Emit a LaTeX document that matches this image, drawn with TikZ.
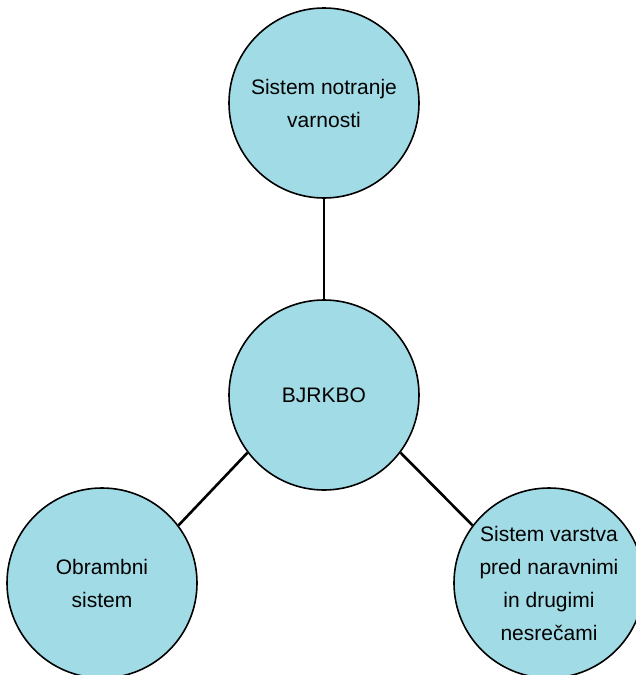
\documentclass[tikz,border=0pt]{standalone}
\usepackage{fontspec}
\setmainfont{Liberation Sans}
\usepackage{tikz}
\usepackage{xcolor}
\usetikzlibrary{positioning}
\definecolor{circleblue}{RGB}{161,219,229}

\tikzset{
  sysnode/.style={circle, draw, line width=1.6pt, fill=circleblue, minimum size=190pt,
    inner sep=0pt, align=center, font=\fontsize{21}{33}\selectfont},
  link/.style={line width=2.6pt}
}

\begin{document}
\begin{tikzpicture}[x=1pt, y=-1pt]
    \useasboundingbox (0,0) rectangle (636,675);

    % Center
    \node[sysnode] (bjrkbo) at (324,395) {BJRKBO};

    % Top
    \node[sysnode] (notr) at (324,103) {Sistem notranje\\varnosti};

    % Bottom left
    \node[sysnode] (obr) at (102,583) {Obrambni\\sistem};

    % Bottom right
    \node[sysnode] (nes) at (549,583) {Sistem varstva\\pred naravnimi\\in drugimi\\nesrečami};

    % Links
    \draw[link] (bjrkbo) -- (notr);
    \draw[link] (bjrkbo.-143) -- (obr.37);
    \draw[link] (bjrkbo.-37) -- (nes.143);
\end{tikzpicture}
\end{document}
